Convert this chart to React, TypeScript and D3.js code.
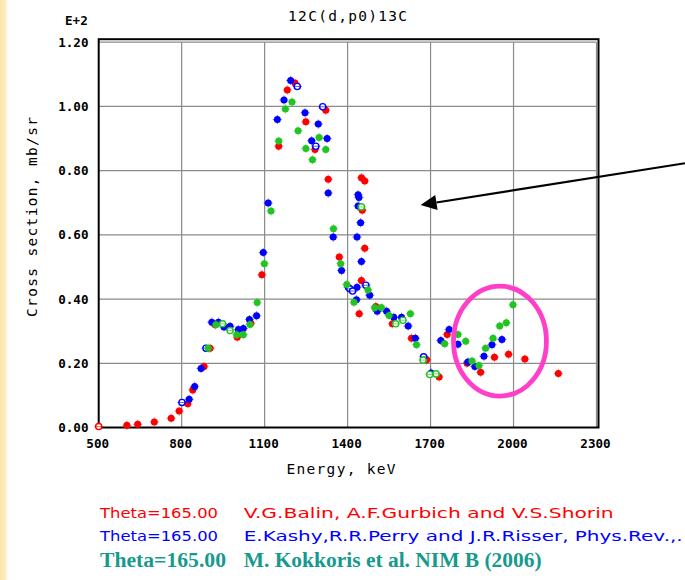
import React from "react";
import * as d3 from "d3";

// axis ticks
const xTicks = [500, 800, 1100, 1400, 1700, 2000, 2300];
const yTicks = [0, 0.2, 0.4, 0.6, 0.8, 1.0, 1.2];

// Balin, Gurbich & Shorin (red) - energy keV, cross section (E+2 mb/sr)
const balin: [number, number][] = [
  [602, 0.007], [641, 0.01], [701, 0.017], [762, 0.029], [791, 0.051], [822, 0.074],
  [840, 0.117], [881, 0.19], [903, 0.247], [921, 0.32], [1001, 0.281], [1050, 0.325],
  [1090, 0.476], [1151, 0.876], [1182, 1.051], [1210, 1.073], [1249, 0.952], [1282, 0.866],
  [1321, 0.988], [1330, 0.773], [1370, 0.531], [1442, 0.354], [1450, 0.778], [1462, 0.768],
  [1453, 0.677], [1462, 0.558], [1450, 0.458], [1502, 0.377], [1562, 0.323], [1631, 0.278],
  [1686, 0.211], [1731, 0.157], [1760, 0.29], [1832, 0.2], [1881, 0.172], [1931, 0.219],
  [1982, 0.228], [2041, 0.213], [2162, 0.168],
];
const balinOpen: [number, number][] = [[500, 0.003]];

// Kashy, Perry & Risser (blue)
const kashy: [number, number][] = [
  [827, 0.088], [847, 0.128], [870, 0.184], [909, 0.328], [933, 0.328], [953, 0.313],
  [975, 0.315], [1005, 0.305], [1023, 0.308], [1045, 0.336], [1071, 0.348], [1095, 0.545],
  [1113, 0.699], [1146, 0.959], [1170, 1.02], [1194, 1.081], [1246, 0.98], [1270, 0.893],
  [1294, 0.945], [1326, 0.9], [1330, 0.73], [1348, 0.593], [1378, 0.489], [1402, 0.437],
  [1434, 0.593], [1438, 0.725], [1441, 0.716], [1438, 0.69], [1447, 0.638], [1450, 0.517],
  [1434, 0.437], [1432, 0.398], [1480, 0.412], [1507, 0.362], [1541, 0.362], [1567, 0.343],
  [1595, 0.343], [1619, 0.316], [1645, 0.278], [1702, 0.17], [1737, 0.271], [1767, 0.305],
  [1799, 0.259], [1835, 0.204], [1860, 0.19], [1893, 0.222], [1922, 0.258], [1958, 0.274],
];
const kashyOpen: [number, number][] = [
  [801, 0.078], [888, 0.247], [1218, 1.062], [1285, 0.876], [1310, 0.999], [1408, 0.432],
  [1418, 0.425], [1466, 0.443], [1675, 0.22],
];

// Kokkoris et al. (green)
const kokkoris: [number, number][] = [
  [896, 0.247], [924, 0.32], [999, 0.289], [1023, 0.289], [1047, 0.321], [1073, 0.389],
  [1099, 0.51], [1123, 0.674], [1151, 0.892], [1175, 0.992], [1199, 1.014], [1221, 0.924],
  [1249, 0.869], [1273, 0.834], [1297, 0.903], [1321, 0.866], [1349, 0.619], [1375, 0.51],
  [1397, 0.445], [1423, 0.39], [1474, 0.428], [1498, 0.373], [1522, 0.374], [1550, 0.349],
  [1627, 0.354], [1649, 0.258], [1751, 0.261], [1799, 0.29], [1827, 0.269], [1850, 0.207],
  [1875, 0.193], [1899, 0.247], [1926, 0.278], [1950, 0.316], [1974, 0.326], [1998, 0.382],
];
const kokkorisOpen: [number, number][] = [
  [948, 0.323], [975, 0.302], [1450, 0.687], [1574, 0.323], [1600, 0.334], [1673, 0.21],
  [1697, 0.165], [1720, 0.167],
];

// annotations (data units)
const arrowFrom: [number, number] = [2620, 0.823];
const arrowTo: [number, number] = [1664, 0.693];
const ringCenter: [number, number] = [1951, 0.269];
const ringRadius: [number, number] = [168, 0.171];

const RED = "#ff0000";
const BLUE = "#0000ff";
const GREEN = "#22c422";
const TEAL = "#179a8e";
const MONO = "'DejaVu Sans Mono', monospace";

const x = d3.scaleLinear().domain([500, 2300]).range([98.7, 596.5]);
const y = d3.scaleLinear().domain([0, 1.2]).range([427.5, 42.2]);

const Marker = ({ d, color, open }: { d: [number, number]; color: string; open?: boolean }) => {
  const cx = x(d[0]);
  const cy = y(d[1]);
  if (open) {
    return (
      <g>
        <circle cx={cx} cy={cy} r={3.1} fill="white" stroke={color} strokeWidth={1.4} />
        <line x1={cx - 4.5} x2={cx + 4.5} y1={cy} y2={cy} stroke={color} strokeWidth={1} opacity={0.6} />
      </g>
    );
  }
  return (
    <g>
      <line x1={cx - 4.6} x2={cx + 4.6} y1={cy} y2={cy} stroke={color} strokeWidth={1} opacity={0.5} />
      <line x1={cx} x2={cx} y1={cy - 4.6} y2={cy + 4.6} stroke={color} strokeWidth={1} opacity={0.5} />
      <circle cx={cx} cy={cy} r={3.5} fill={color} />
    </g>
  );
};

export default function App() {
  const [ax, ay] = [x(arrowFrom[0]), y(arrowFrom[1])];
  const [tx, ty] = [x(arrowTo[0]), y(arrowTo[1])];
  const len = Math.hypot(ax - tx, ay - ty);
  const ux = (ax - tx) / len;
  const uy = (ay - ty) / len;
  const headL = 16;
  const headW = 7.5;
  const bx = tx + ux * headL;
  const by = ty + uy * headL;
  const head = [
    [tx, ty],
    [bx - uy * headW, by + ux * headW],
    [bx + uy * headW, by - ux * headW],
  ]
    .map((p) => p.join(","))
    .join(" ");

  const left = x(500);
  const right = x(2300);
  const top = y(1.2);
  const bottom = y(0);

  return (
    <svg width={685} height={580} style={{ position: "absolute", left: 0, top: 0, background: "white" }}>
      <defs>
        <linearGradient id="stripe" x1="0" x2="1" y1="0" y2="0">
          <stop offset="0" stopColor="#fde6ad" />
          <stop offset="0.65" stopColor="#fdecbf" />
          <stop offset="1" stopColor="#ffffff" />
        </linearGradient>
      </defs>
      <rect x={0} y={0} width={8} height={580} fill="url(#stripe)" />

      {/* grid */}
      {xTicks.slice(1).map((t) => (
        <line key={"gx" + t} x1={x(t)} x2={x(t)} y1={top} y2={bottom} stroke="#8a8a8a" strokeWidth={1.2} />
      ))}
      {yTicks.slice(1).map((t) => (
        <line key={"gy" + t} x1={left} x2={right} y1={y(t)} y2={y(t)} stroke="#8a8a8a" strokeWidth={1.2} />
      ))}
      <rect x={left} y={top - 3} width={right + 2 - left} height={bottom - top + 3} fill="none" stroke="black" strokeWidth={2} />

      {/* tick labels */}
      {yTicks.map((t) => (
        <text key={"ty" + t} x={88.5} y={y(t) + 4.5} textAnchor="end" fontFamily={MONO} fontWeight="bold" fontSize={12.6}>
          {d3.format(".2f")(t)}
        </text>
      ))}
      {xTicks.map((t) => (
        <text key={"tx" + t} x={x(t) - 1} y={447.8} textAnchor="middle" fontFamily={MONO} fontWeight="bold" fontSize={12.6}>
          {t}
        </text>
      ))}
      <text x={65} y={24.5} fontFamily={MONO} fontWeight="bold" fontSize={12.6}>E+2</text>

      <text x={(left + right) / 2} y={21.3} textAnchor="middle" fontFamily={MONO} fontSize={14.5} textLength={119} lengthAdjust="spacing">
        12C(d,p0)13C
      </text>
      <text x={341} y={474} textAnchor="middle" fontFamily={MONO} fontSize={14.5} textLength={109} lengthAdjust="spacing">
        Energy, keV
      </text>
      <text transform="translate(36.5,217) rotate(-90)" textAnchor="middle" fontFamily={MONO} fontSize={14.5} textLength={200} lengthAdjust="spacing">
        Cross section, mb/sr
      </text>

      {/* data */}
      {balin.map((d, i) => <Marker key={"r" + i} d={d} color={RED} />)}
      {balinOpen.map((d, i) => <Marker key={"ro" + i} d={d} color={RED} open />)}
      {kashy.map((d, i) => <Marker key={"b" + i} d={d} color={BLUE} />)}
      {kashyOpen.map((d, i) => <Marker key={"bo" + i} d={d} color={BLUE} open />)}
      {kokkoris.map((d, i) => <Marker key={"g" + i} d={d} color={GREEN} />)}
      {kokkorisOpen.map((d, i) => <Marker key={"go" + i} d={d} color={GREEN} open />)}

      {/* annotations */}
      <line x1={ax} y1={ay} x2={bx} y2={by} stroke="black" strokeWidth={2.2} />
      <polygon points={head} fill="black" />
      <ellipse
        cx={x(ringCenter[0])}
        cy={y(ringCenter[1])}
        rx={x(ringCenter[0] + ringRadius[0]) - x(ringCenter[0])}
        ry={y(0) - y(ringRadius[1])}
        fill="none"
        stroke="#ff3ec9"
        strokeWidth={4.8}
      />

      {/* legend */}
      <g fontFamily="'DejaVu Sans', sans-serif" fontSize={13.5}>
        <text x={100} y={518.3} fill={RED} textLength={118} lengthAdjust="spacingAndGlyphs">Theta=165.00</text>
        <text x={243.7} y={518.3} fill={RED} textLength={370} lengthAdjust="spacingAndGlyphs">
          V.G.Balin, A.F.Gurbich and V.S.Shorin
        </text>
        <text x={100} y={541.3} fill={BLUE} textLength={118} lengthAdjust="spacingAndGlyphs">Theta=165.00</text>
        <text x={243.7} y={541.3} fill={BLUE} textLength={439} lengthAdjust="spacingAndGlyphs">
          E.Kashy,R.R.Perry and J.R.Risser, Phys.Rev.,.
        </text>
      </g>
      <g fontFamily="'Liberation Serif', serif" fontWeight="bold" fontSize={20} fill={TEAL}>
        <text x={100} y={567} textLength={126} lengthAdjust="spacingAndGlyphs">Theta=165.00</text>
        <text x={243.7} y={567} textLength={298} lengthAdjust="spacingAndGlyphs">M. Kokkoris et al. NIM B (2006)</text>
      </g>
    </svg>
  );
}
